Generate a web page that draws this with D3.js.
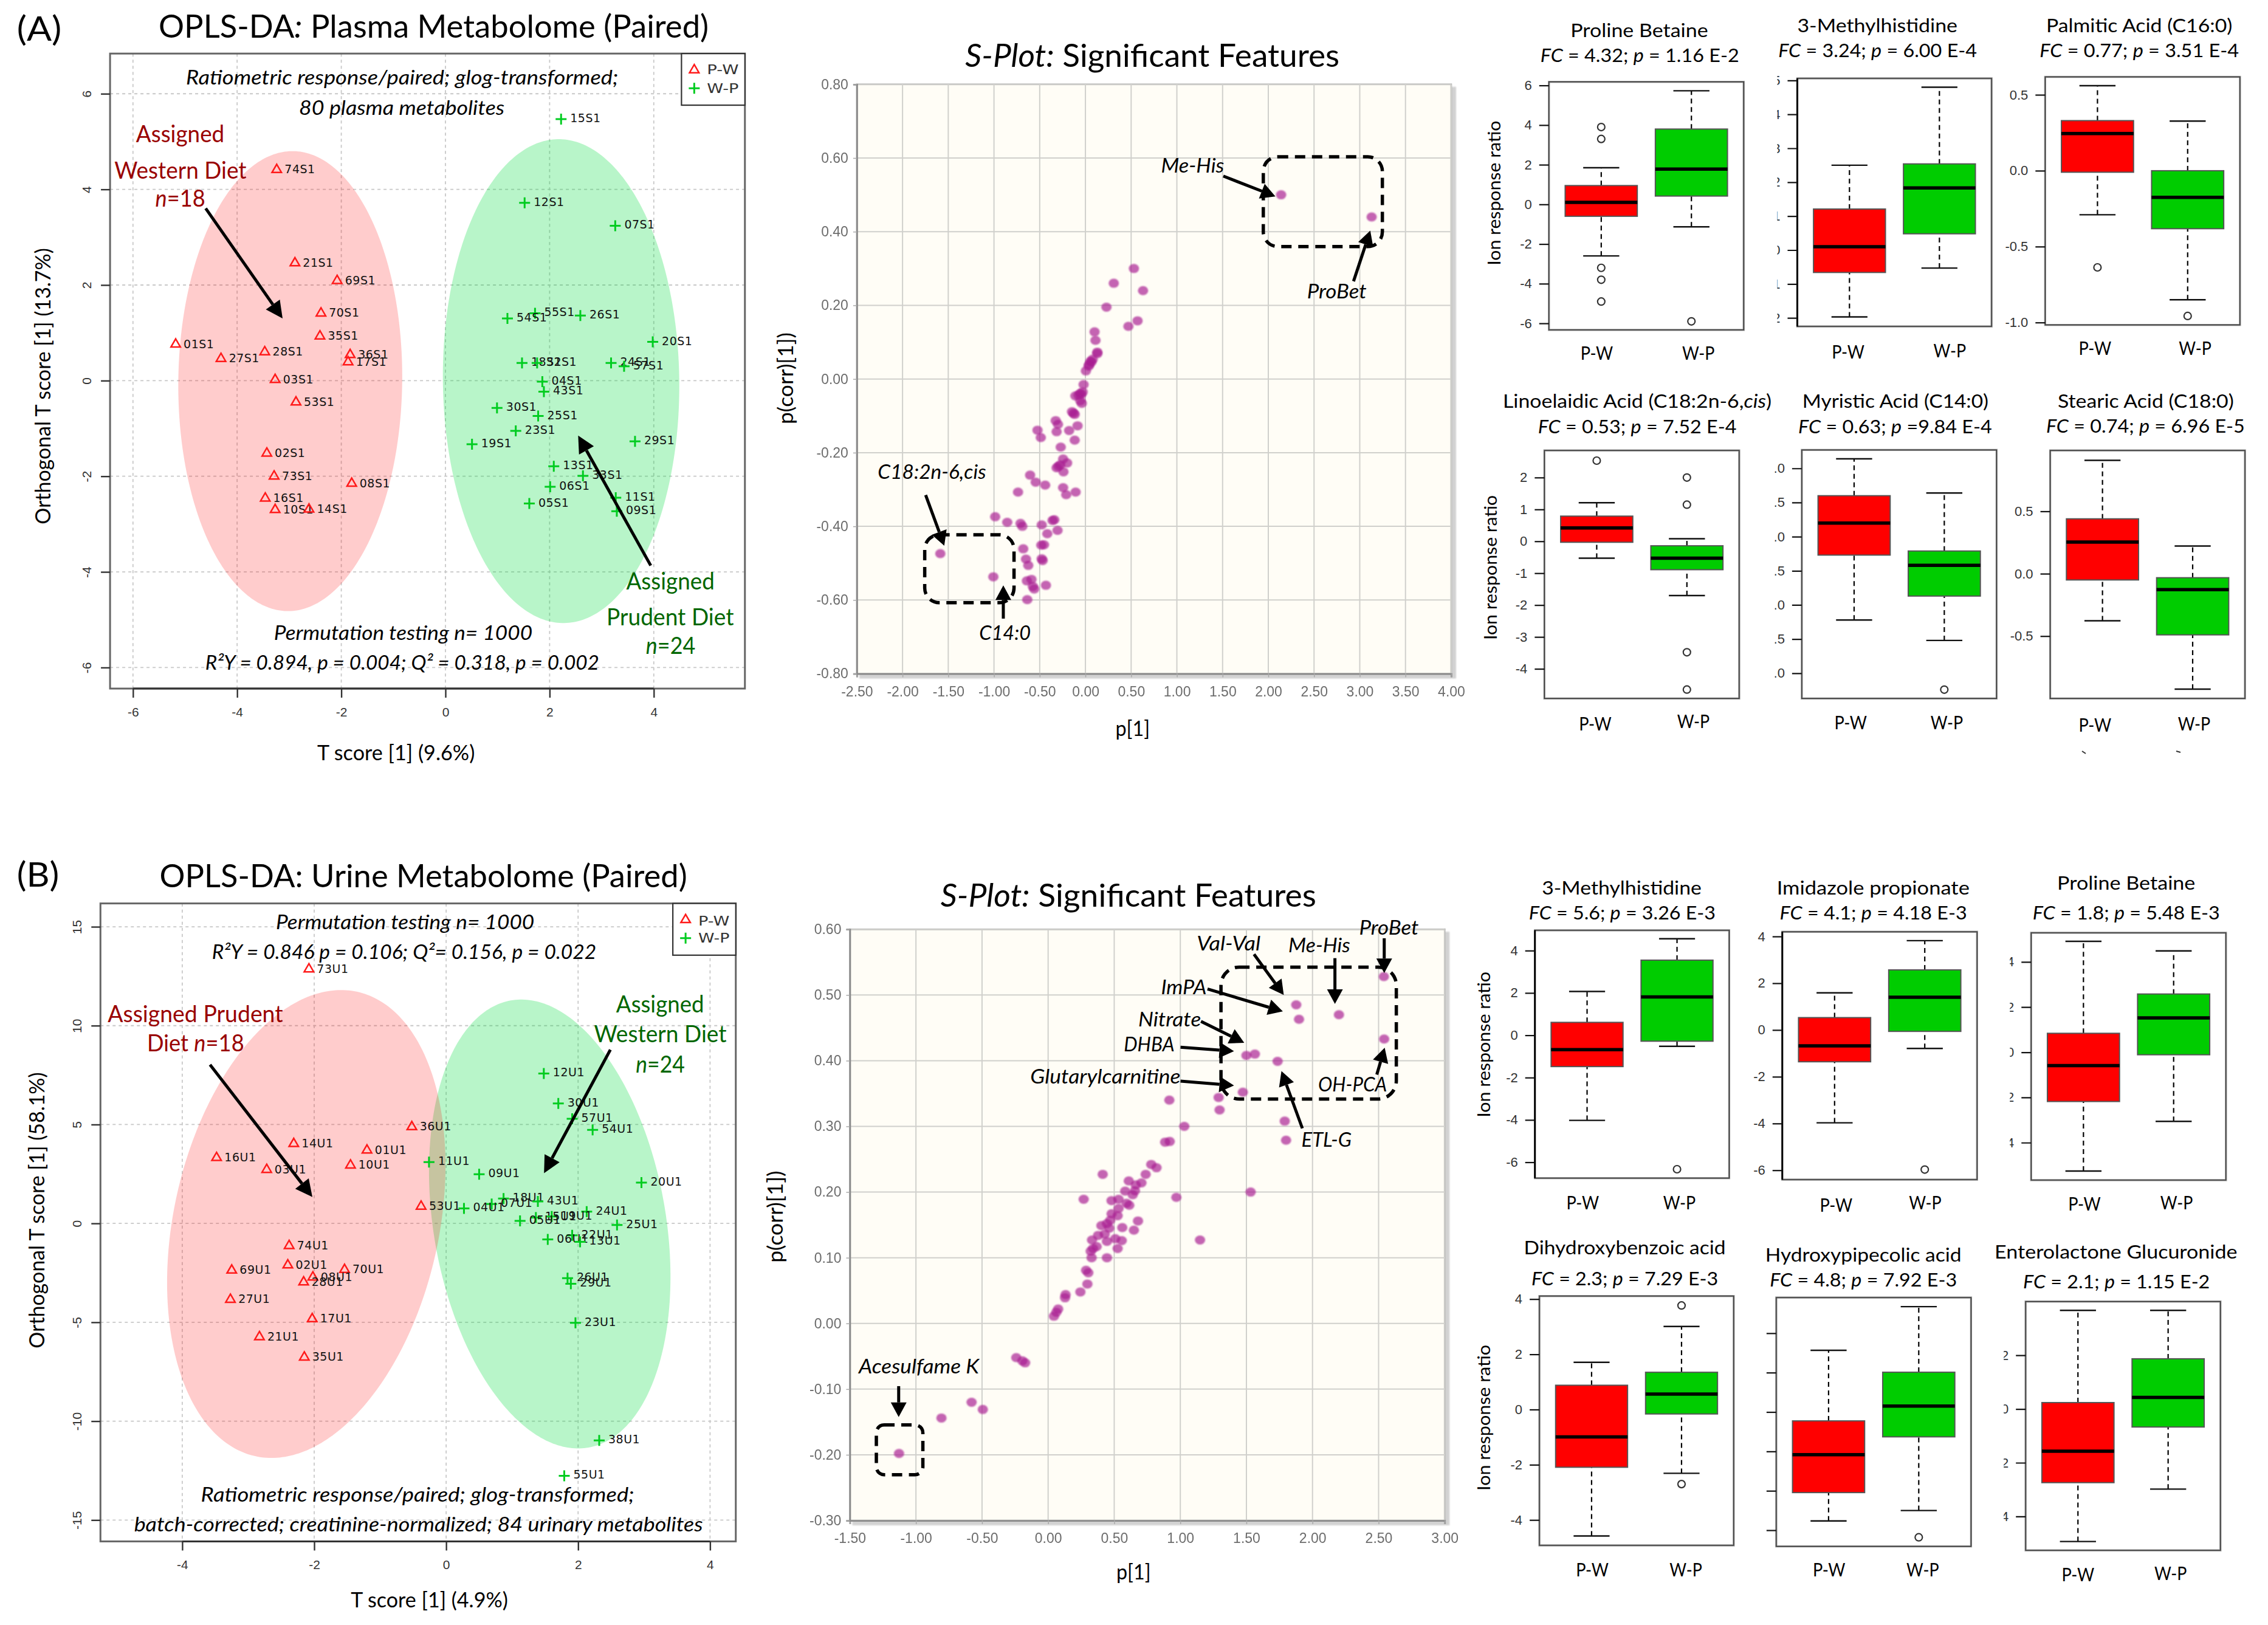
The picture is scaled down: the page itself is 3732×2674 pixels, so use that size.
<!DOCTYPE html>
<html><head><meta charset="utf-8">
<script src="https://cdn.jsdelivr.net/npm/d3@7/dist/d3.min.js"></script>
<style>html,body{margin:0;padding:0;background:#fff}svg{display:block}</style>
</head><body><svg id="chart" width="3732" height="2674" viewBox="0 0 3732 2674"></svg>
<script>
/* ---------- DATA: OPLS-DA scores ---------- */
const plasmaPwIds=["74S1","21S1","69S1","70S1","35S1","01S1","27S1","28S1","36S1","17S1","03S1","53S1","02S1","73S1","08S1","16S1","10S1","14S1"];
const plasmaPwT=[-3.24,-2.89,-2.08,-2.39,-2.41,-5.18,-4.31,-3.47,-1.83,-1.87,-3.27,-2.87,-3.43,-3.29,-1.80,-3.46,-3.27,-2.62];
const plasmaPwO=[4.41,2.46,2.09,1.41,0.93,0.76,0.46,0.60,0.54,0.39,0.02,-0.45,-1.52,-2.0,-2.15,-2.46,-2.70,-2.69];
const plasmaWpIds=["15S1","12S1","07S1","55S1","54S1","26S1","20S1","18S1","32S1","24S1","57S1","04S1","43S1","30S1","25S1","23S1","19S1","29S1","13S1","33S1","06S1","11S1","05S1","09S1"];
const plasmaWpT=[2.22,1.52,3.26,1.72,1.19,2.59,3.98,1.47,1.76,3.18,3.43,1.86,1.89,0.99,1.78,1.35,0.51,3.64,2.08,2.64,2.01,3.27,1.61,3.29];
const plasmaWpO=[5.47,3.72,3.24,1.41,1.30,1.36,0.81,0.37,0.37,0.37,0.30,-0.02,-0.23,-0.57,-0.74,-1.05,-1.33,-1.27,-1.79,-1.99,-2.22,-2.45,-2.57,-2.73];
const urinePwIds=["73U1","36U1","14U1","01U1","16U1","10U1","03U1","53U1","74U1","02U1","69U1","70U1","08U1","28U1","27U1","17U1","21U1","35U1"];
const urinePwT=[-2.08,-0.52,-2.31,-1.20,-3.48,-1.45,-2.72,-0.38,-2.38,-2.40,-3.25,-1.54,-2.02,-2.16,-3.27,-2.03,-2.83,-2.15];
const urinePwO=[12.86,4.88,4.03,3.70,3.32,2.94,2.72,0.86,-1.13,-2.11,-2.37,-2.34,-2.72,-2.97,-3.85,-4.83,-5.74,-6.77];
const urineWpIds=["12U1","30U1","57U1","54U1","11U1","09U1","20U1","18U1","43U1","07U1","04U1","24U1","15U1","19U1","05U1","25U1","22U1","06U1","13U1","26U1","29U1","23U1","38U1","55U1"];
const urineWpT=[1.48,1.70,1.91,2.22,-0.26,0.50,2.96,0.87,1.39,0.69,0.27,2.13,1.36,1.60,1.12,2.59,1.91,1.54,2.03,1.84,1.89,1.96,2.32,1.79];
const urineWpO=[7.58,6.07,5.29,4.73,3.10,2.49,2.06,1.26,1.11,0.98,0.76,0.60,0.30,0.35,0.13,-0.08,-0.60,-0.81,-0.93,-2.77,-3.05,-5.03,-10.97,-12.76];

/* ---------- DATA: S-plots ---------- */
const sPlotAp=[2.14,3.13,.53,.31,.63,.23,.57,.47,.10,.11,.13,.13,.08,.055,.04,.005,.065,.036,-.02,-.03,-.056,-.11,-.076,-.046,-.04,-.056,-.147,-.13,-.117,-.086,-.178,-.117,-.325,-.30,-.315,-.524,-.488,-.27,-.244,-.2,-.275,-.315,-.24,-.295,-.605,-.544,-.44,-.244,-.21,-.107,-.737,-.987,-.855,-.71,-.69,-.478,-.36,-.34,-.305,-.417,-1.587,-.68,-.483,-.453,-.65,-.625,-.468,-.478,-1.007,-.64,-.59,-.575,-.56,-.432,-.636];
const sPlotAcorr=[.50,.44,.30,.26,.24,.195,.158,.143,.128,.105,.073,.069,.054,.048,.039,.022,.046,.035,-.015,-.035,-.039,-.046,-.044,-.042,-.066,-.059,-.089,-.093,-.096,-.127,-.14,-.166,-.113,-.123,-.143,-.139,-.159,-.185,-.217,-.228,-.233,-.241,-.252,-.237,-.261,-.28,-.288,-.295,-.314,-.307,-.307,-.374,-.389,-.392,-.40,-.396,-.384,-.382,-.411,-.42,-.474,-.461,-.451,-.45,-.489,-.506,-.493,-.488,-.537,-.548,-.544,-.563,-.57,-.56,-.599];
const sPlotBp=[2.54,1.877,1.898,2.20,2.542,1.50,1.564,1.736,1.473,1.29,1.297,.917,1.03,1.79,1.80,.885,.92,.78,.82,.413,.738,.61,.706,.663,.657,1.532,.583,.64,.269,.97,.48,.533,.593,.614,.533,.48,.526,.47,.403,.445,.463,.68,.561,.649,.378,.428,.508,.557,.332,.445,.367,.34,.322,.526,.329,.445,.287,.304,.297,.244,.132,.128,.076,.062,.044,-.241,-.195,-.174,-.579,-.494,-.807,-1.128,1.149];
const sPlotBcorr=[.528,.485,.463,.470,.433,.408,.41,.399,.352,.344,.325,.34,.30,.308,.279,.276,.277,.242,.237,.227,.227,.217,.214,.211,.202,.20,.2015,.196,.189,.192,.187,.189,.183,.18,.175,.167,.164,.157,.149,.152,.145,.156,.146,.142,.134,.136,.129,.126,.127,.125,.117,.114,.11,.114,.10,.10,.081,.077,.06,.048,.044,.039,.022,.017,.011,-.052,-.057,-.06,-.12,-.131,-.144,-.198,.127];

/* ---------- DATA: box plots  [whisker low, Q1, median, Q3, whisker high] ---------- */
const boxGroups=["P-W","W-P"];
const proBetA_PW=[-2.6,-.6,.1,.95,1.85], proBetA_WP=[-1.13,.42,1.78,3.8,5.73], proBetA_out=[[3.9,3.3,-3.2,-3.8,-4.9],[-5.9]];
const meHisA_PW=[-1.97,-.66,.10,1.21,2.5], meHisA_WP=[-.53,.48,1.83,2.54,4.8], meHisA_out=[[],[]];
const palmA_PW=[-.29,-.01,.245,.33,.56], palmA_WP=[-.85,-.382,-.176,0,.327], palmA_out=[[-.637],[-.957]];
const linoA_PW=[-.53,-.03,.42,.79,1.21], linoA_WP=[-1.7,-.89,-.53,-.14,.08], linoA_out=[[2.53],[2.0,1.15,-3.48,-4.65]];
const myrA_PW=[-1.22,-.27,.20,.60,1.14], myrA_WP=[-1.52,-.87,-.42,-.21,.64], myrA_out=[[],[-2.24]];
const stearA_PW=[-.377,-.05,.254,.44,.909], stearA_WP=[-.925,-.49,-.127,-.032,.222], stearA_out=[[],[]];
const meHisB_PW=[-4.02,-1.48,-.68,.61,2.07], meHisB_WP=[-.52,-.28,1.81,3.55,4.56], meHisB_out=[[],[-6.33]];
const imidB_PW=[-3.97,-1.36,-.68,.53,1.59], imidB_WP=[-.79,-.06,1.4,2.57,3.82], imidB_out=[[],[-5.97]];
const proBetB_PW=[-5.26,-2.18,-.59,.84,4.91], proBetB_WP=[-3.06,-.11,1.52,2.58,4.49], proBetB_out=[[],[]];
const dhbaB_PW=[-4.58,-2.09,-.99,.88,1.71], dhbaB_WP=[-2.31,-.16,.56,1.35,3.01], dhbaB_out=[[],[3.77,-2.7]];
const hpipB_PW=[-5.53,-4.09,-2.17,-.45,3.13], hpipB_WP=[-5.0,-1.26,.30,2.02,5.35], hpipB_out=[[],[-6.36]];
const entB_PW=[-4.93,-2.74,-1.57,.24,3.67], entB_WP=[-2.98,-.67,.43,1.87,3.67], entB_out=[[],[]];

/* ---------- layout helpers ---------- */
const svg=d3.select("#chart");
svg.append("rect").attr("width",3732).attr("height",2674).attr("fill","#fff");
const defs=svg.append("defs");
defs.append("filter").attr("id","soft").attr("x","-30%").attr("y","-30%").attr("width","160%").attr("height","160%")
  .append("feGaussianBlur").attr("stdDeviation",1.3);
defs.append("filter").attr("id","tiny").attr("x","-5%").attr("y","-30%").attr("width","110%").attr("height","160%")
  .append("feGaussianBlur").attr("stdDeviation",0.45);
const crops={pA:[0,0,1240/1568,1280/1568],sA:[1240,0,1200/1568,1280/1568],bA:[2440,0,1292/1568,1280/1568],
             pB:[0,1390,1240/1568,1284/1568],sB:[1240,1390,1200/1568,1284/1568],bB:[2440,1390,1292/1568,1284/1568]};
const PX=(c,v)=>crops[c][0]+v*crops[c][2], PY=(c,v)=>crops[c][1]+v*crops[c][3];
const CAL="Lato", it=t=>({t,i:1}), RED="#990000", GRN="#006600";

function fitText(g,segs,size,fill,family){
  const el=g.append("text").attr("font-family",family||CAL).attr("font-size",size).attr("fill",fill||"#000").attr("xml:space","preserve");
  (typeof segs==="string"?[{t:segs}]:segs).forEach(s=>{
    const ts=el.append("tspan").text(s.t).style("white-space","pre");
    if(s.i) ts.attr("font-style","italic");
  });
  return el;
}
function put(c,x0,x1,base,segs,size,fill,family){
  const el=fitText(svg,segs,size,fill,family), w=el.node().getComputedTextLength(), target=(x1-x0)*crops[c][2];
  el.attr("transform",`translate(${PX(c,x0)},${PY(c,base)}) scale(${target/w},1)`);
  return el;
}
function rot(c,baseX,y0,y1,segs,size,fill){
  const el=fitText(svg,segs,size,fill), w=el.node().getComputedTextLength(), target=(y1-y0)*crops[c][3];
  el.attr("transform",`translate(${PX(c,baseX)},${PY(c,y1)}) rotate(-90) scale(${target/w},1)`);
  return el;
}
function arrow(c,x1,y1,x2,y2,lw=5,hl=28,hw=14){
  const ax=PX(c,x1),ay=PY(c,y1),bx=PX(c,x2),by=PY(c,y2),a=Math.atan2(by-ay,bx-ax);
  const mx=bx-hl*Math.cos(a),my=by-hl*Math.sin(a);
  svg.append("line").attr("x1",ax).attr("y1",ay).attr("x2",mx).attr("y2",my).attr("stroke","#000").attr("stroke-width",lw);
  svg.append("polygon").attr("fill","#000").attr("points",
    [[bx,by],[mx-hw*Math.sin(a),my+hw*Math.cos(a)],[mx+hw*Math.sin(a),my-hw*Math.cos(a)]].map(p=>p.join(",")).join(" "));
}
function dashedBox(c,x0,y0,x1,y1,r){
  svg.append("rect").attr("x",PX(c,x0)).attr("y",PY(c,y0)).attr("width",PX(c,x1)-PX(c,x0)).attr("height",PY(c,y1)-PY(c,y0))
    .attr("rx",r).attr("ry",r).attr("fill","none").attr("stroke","#000").attr("stroke-width",5.5).attr("stroke-dasharray","17,11");
}

/* ---------- OPLS-DA score panel ---------- */
function scorePanel(o){
  const c=o.crop,[x0,y0,x1,y1]=[PX(c,o.rect[0]),PY(c,o.rect[1]),PX(c,o.rect[2]),PY(c,o.rect[3])];
  const x=d3.scaleLinear().domain(o.xDom).range([x0,x1]), y=d3.scaleLinear().domain(o.yDom).range([y1,y0]);
  const g=svg.append("g");
  g.selectAll(".gx").data(o.xTicks).join("line").attr("x1",d=>x(d)).attr("x2",d=>x(d)).attr("y1",y0).attr("y2",y1)
    .attr("stroke","#c8c8c8").attr("stroke-width",1.8).attr("stroke-dasharray","5,5");
  g.selectAll(".gy").data(o.yTicks).join("line").attr("y1",d=>y(d)).attr("y2",d=>y(d)).attr("x1",x0).attr("x2",x1)
    .attr("stroke","#c8c8c8").attr("stroke-width",1.8).attr("stroke-dasharray","5,5");
  const ell=(e,col)=>{
    const line=d3.line().x(t=>x(e.cx+e.a*Math.cos(t))).y(t=>y(e.cy+e.b*Math.cos(t-Math.acos(e.r))));
    g.append("path").attr("d",line(d3.range(0,6.3,0.02))+"Z").attr("fill",col);
  };
  ell(o.grnEll,"rgba(0,220,60,0.28)"); ell(o.redEll,"rgba(255,0,0,0.2)");
  g.append("rect").attr("x",x0).attr("y",y0).attr("width",x1-x0).attr("height",y1-y0).attr("fill","none").attr("stroke","#666").attr("stroke-width",3);
  const ax=g.append("g").attr("transform",`translate(0,${y1})`).call(d3.axisBottom(x).tickValues(o.xTicks).tickFormat(String).tickSize(15));
  ax.select(".domain").remove();
  ax.selectAll("text").attr("y",o.xLabY).attr("dy",0);
  const ay=g.append("g").attr("transform",`translate(${x0},0)`).call(d3.axisLeft(y).tickValues(o.yTicks).tickFormat(String).tickSize(15));
  ay.select(".domain").remove();
  ay.selectAll("text").attr("x",0).attr("dy",0).attr("text-anchor","middle").attr("transform",`translate(-31,0) rotate(-90)`);
  [ax,ay].forEach(a=>{a.selectAll("line").attr("stroke","#333").attr("stroke-width",2.4);
    a.selectAll("text").attr("font-family","Liberation Sans").attr("font-size",21).attr("fill","#333");});
  g.append("line").attr("x1",x(o.xTicks[0])).attr("x2",x(o.xTicks[o.xTicks.length-1])).attr("y1",y1).attr("y2",y1).attr("stroke","#333").attr("stroke-width",3);
  const tri=d3.symbol().type(d3.symbolTriangle).size(105)();
  const plus="M-9,0H9M0,-9V9";
  o.pwIds.forEach((id,i)=>{
    g.append("path").attr("d",tri).attr("transform",`translate(${x(o.pwT[i])},${y(o.pwO[i])})`).attr("fill","none").attr("stroke","#ff1a1a").attr("stroke-width",2.5);
    g.append("text").attr("x",x(o.pwT[i])+13).attr("y",y(o.pwO[i])+6).text(id).attr("font-family","DejaVu Sans").attr("font-size",19).attr("letter-spacing",0.5).attr("fill","#111");
  });
  o.wpIds.forEach((id,i)=>{
    g.append("path").attr("d",plus).attr("transform",`translate(${x(o.wpT[i])},${y(o.wpO[i])})`).attr("fill","none").attr("stroke","#00cc20").attr("stroke-width",3);
    g.append("text").attr("x",x(o.wpT[i])+15).attr("y",y(o.wpO[i])+5).text(id).attr("font-family","DejaVu Sans").attr("font-size",19).attr("letter-spacing",0.5).attr("fill","#111");
  });
  const lx0=PX(c,o.legend[0]),ly0=PY(c,o.legend[1]),lx1=x1,ly1=PY(c,o.legend[2]);
  g.append("rect").attr("x",lx0).attr("y",ly0).attr("width",lx1-lx0).attr("height",ly1-ly0).attr("fill","#fff").attr("stroke","#333").attr("stroke-width",2.2);
  const sx=lx0+21;
  g.append("path").attr("d",tri).attr("transform",`translate(${sx},${ly0+27})`).attr("fill","none").attr("stroke","#ff1a1a").attr("stroke-width",2.5);
  g.append("path").attr("d",plus).attr("transform",`translate(${sx},${ly0+57})`).attr("fill","none").attr("stroke","#00cc20").attr("stroke-width",3);
  put(c,o.legTxt[0],o.legTxt[1],o.legTxt[2],"P-W",22,"#333","DejaVu Sans");
  put(c,o.legTxt[0],o.legTxt[1],o.legTxt[3],"W-P",22,"#333","DejaVu Sans");
}

scorePanel({crop:"pA",rect:[229,108,1550,1388],xDom:[-6.44,5.75],yDom:[-6.44,6.84],xTicks:[-6,-4,-2,0,2,4],yTicks:[-6,-4,-2,0,2,4,6],xLabY:46,
  pwIds:plasmaPwIds,pwT:plasmaPwT,pwO:plasmaPwO,wpIds:plasmaWpIds,wpT:plasmaWpT,wpO:plasmaWpO,
  redEll:{cx:-2.98,cy:-0.01,a:2.15,b:4.81,r:0.02},grnEll:{cx:2.22,cy:-0.01,a:2.27,b:5.06,r:-0.02},legend:[1418,108,212],legTxt:[1471,1537,150,187]});
scorePanel({crop:"pB",rect:[209,118,1531,1400],xDom:[-5.24,4.39],yDom:[-16.08,16.18],xTicks:[-4,-2,0,2,4],yTicks:[-15,-10,-5,0,5,10,15],xLabY:46,
  pwIds:urinePwIds,pwT:urinePwT,pwO:urinePwO,wpIds:urineWpIds,wpT:urineWpT,wpO:urineWpO,
  redEll:{cx:-2.12,cy:-0.03,a:2.11,b:11.83,r:0.25},grnEll:{cx:1.57,cy:-0.03,a:1.83,b:11.35,r:-0.235},legend:[1400,118,222],legTxt:[1453,1518,162,197]});

/* Panel A score annotations */
put("pA",35,128,82,"(A)",56);
put("pA",330,1475,76,[{t:"OPLS-DA"},it(":"),{t:" Plasma Metabolome (Paired)"}],52);
put("pA",660,988,1533,"T score [1] (9.6%)",34);
rot("pA",105,500,1057,"Orthogonal T score [1] (13.7%)",34);
put("pA",387,1287,170,[it("Ratiometric response/paired; glog-transformed;")],33);
put("pA",622,1050,232,[it("80 plasma metabolites")],33);
put("pA",283,467,287,"Assigned",38,RED);
put("pA",238,513,360,"Western Diet",38,RED);
put("pA",323,427,417,[it("n"),{t:"=18"}],38,RED);
put("pA",570,1108,1290,[it("Permutation testing n= 1000")],33);
put("pA",427,1247,1350,[it("R²Y = 0.894, p = 0.004; Q² = 0.318, p = 0.002")],33);
put("pA",1303,1487,1188,"Assigned",38,GRN);
put("pA",1262,1527,1260,"Prudent Diet",38,GRN);
put("pA",1344,1447,1318,[it("n"),{t:"=24"}],38,GRN);
arrow("pA",428,420,588,642);
arrow("pA",1354,1140,1203,878);

/* Panel B score annotations */
put("pB",35,123,84,"(B)",56);
put("pB",332,1430,85,"OPLS-DA: Urine Metabolome (Paired)",52);
put("pB",730,1057,1532,"T score [1] (4.9%)",34);
rot("pB",92,457,1012,"Orthogonal T score [1] (58.1%)",34);
put("pB",574,1112,170,[it("Permutation testing n= 1000")],33);
put("pB",441,1241,230,[it("R²Y = 0.846 p = 0.106; Q²= 0.156, p = 0.022")],33);
put("pB",224,589,356,"Assigned Prudent",38,RED);
put("pB",306,508,415,[{t:"Diet "},it("n"),{t:"=18"}],38,RED);
put("pB",1282,1465,337,"Assigned",38,GRN);
put("pB",1236,1512,397,"Western Diet",38,GRN);
put("pB",1323,1425,458,[it("n"),{t:"=24"}],38,GRN);
put("pB",418,1320,1320,[it("Ratiometric response/paired; glog-transformed;")],33);
put("pB",279,1463,1380,[it("batch-corrected; creatinine-normalized; 84 urinary metabolites")],33);
arrow("pB",437,442,650,708);
arrow("pB",1270,412,1132,660);

/* ---------- S-plot panel ---------- */
function sPlot(o){
  const c=o.crop,[x0,y0,x1,y1]=[PX(c,o.rect[0]),PY(c,o.rect[1]),PX(c,o.rect[2]),PY(c,o.rect[3])];
  const x=d3.scaleLinear().domain(o.xDom).range([x0,x1]), y=d3.scaleLinear().domain(o.yDom).range([y1,y0]);
  const g=svg.append("g");
  g.append("rect").attr("x",x0+4).attr("y",y0+4).attr("width",x1-x0+4).attr("height",y1-y0+4).attr("fill","#d2d2d2").attr("filter","url(#soft)");
  g.append("rect").attr("x",x0).attr("y",y0).attr("width",x1-x0).attr("height",y1-y0).attr("fill","#fffdf6").attr("stroke","#a6a6a6").attr("stroke-width",2.6);
  g.selectAll(".gx").data(o.xTicks).join("line").attr("x1",d=>x(d)).attr("x2",d=>x(d)).attr("y1",y0).attr("y2",y1).attr("stroke","#d0d0cc").attr("stroke-width",2);
  g.selectAll(".gy").data(o.yTicks).join("line").attr("y1",d=>y(d)).attr("y2",d=>y(d)).attr("x1",x0).attr("x2",x1).attr("stroke","#d0d0cc").attr("stroke-width",2);
  const fmt=d=>d.toFixed(2);
  const ax=g.append("g").attr("transform",`translate(0,${y1})`).call(d3.axisBottom(x).tickValues(o.xTicks).tickFormat(fmt).tickSize(6).tickPadding(15));
  const ay=g.append("g").attr("transform",`translate(${x0},0)`).call(d3.axisLeft(y).tickValues(o.yTicks).tickFormat(fmt).tickSize(6).tickPadding(8));
  [ax,ay].forEach(a=>{a.select(".domain").attr("stroke","#8a8a8a").attr("stroke-width",2.8);
    a.selectAll("line").attr("stroke","#aaa").attr("stroke-width",1.5);
    a.selectAll("text").attr("font-family","Liberation Sans").attr("font-size",23).attr("fill","#6c6c6c").attr("filter","url(#tiny)");});
  g.selectAll(".pt").data(o.p).join("ellipse").attr("cx",d=>x(d)).attr("cy",(d,i)=>y(o.corr[i])).attr("rx",8.5).attr("ry",7.5)
    .attr("fill","#a81c90").attr("fill-opacity",0.68).attr("filter","url(#soft)");
}
sPlot({crop:"sA",rect:[222,170,1500,1358],xDom:[-2.5,4],yDom:[-.8,.8],xTicks:d3.range(-2.5,4.01,.5),yTicks:d3.range(-.8,.81,.2).map(v=>+v.toFixed(1)),p:sPlotAp,corr:sPlotAcorr});
sPlot({crop:"sB",rect:[207,170,1486,1358],xDom:[-1.5,3],yDom:[-.3,.6],xTicks:d3.range(-1.5,3.01,.5),yTicks:d3.range(-.3,.61,.1).map(v=>+v.toFixed(1)),p:sPlotBp,corr:sPlotBcorr});

put("sA",455,1260,135,[it("S-Plot:"),{t:" Significant Features"}],52);
put("sA",778,852,1484,"p[1]",34);
rot("sA",85,670,855,"p(corr)[1])",34);
dashedBox("sA",1096,316,1352,497,24); dashedBox("sA",368,1078,560,1215,24);
put("sA",876,1012,348,[it("Me-His")],33);
put("sA",1190,1318,602,[it("ProBet")],33);
put("sA",267,500,965,[it("C18:2n-6,cis")],33);
put("sA",485,596,1290,[it("C14:0")],33);
arrow("sA",1010,355,1122,396,5,24,13);
arrow("sA",1290,567,1326,465,5,24,13);
arrow("sA",370,998,410,1100,5,24,13);
arrow("sA",537,1247,537,1180,5,24,13);

put("sB",402,1210,125,[it("S-Plot:"),{t:" Significant Features"}],52);
put("sB",780,854,1477,"p[1]",34);
rot("sB",63,655,840,"p(corr)[1])",34);
dashedBox("sB",1005,246,1382,511,30); dashedBox("sB",264,1166,364,1266,13);
[["ProBet",1302,1430,181],["Val-Val",953,1090,212],["Me-His",1150,1283,216],["ImPA",876,974,300],["Nitrate",827,962,365],["DHBA",796,905,415],
 ["Glutarylcarnitine",595,918,480],["OH-PCA",1214,1362,496],["ETL-G",1178,1286,607],["Acesulfame K",226,485,1063]]
 .forEach(a=>put("sB",a[1],a[2],a[3],[it(a[0])],33));
[[1356,188,1356,258],[1076,220,1140,302],[1250,228,1250,320],[976,290,1138,335],[962,355,1055,398],[918,407,1033,415],[918,475,1033,484],[1340,462,1357,408],[1180,570,1135,455],[312,1088,312,1150]]
 .forEach(a=>arrow("sB",a[0],a[1],a[2],a[3],5,24,13));

/* ---------- box plots ---------- */
let clipN=0;
const oneDec=d=>d.toFixed(1);
function boxPanel(o){
  const c=o.crop,[x0,y0,x1,y1]=[PX(c,o.rect[0]),PY(c,o.rect[1]),PX(c,o.rect[2]),PY(c,o.rect[3])];
  const x=d3.scaleLinear().domain([.42,2.58]).range([x0,x1]), y=d3.scaleLinear().domain(o.dom).range([y1,y0]);
  const g=svg.append("g");
  const capW=(x(1.2)-x(1)), boxW=(x(1.4)-x(1));
  [o.pw,o.wp].forEach((s,i)=>{
    const cx=x(i+1),[lo,q1,med,q3,hi]=s;
    [[lo,q1],[q3,hi]].forEach(w=>g.append("line").attr("x1",cx).attr("x2",cx).attr("y1",y(w[0])).attr("y2",y(w[1])).attr("stroke","#000").attr("stroke-width",2.2).attr("stroke-dasharray","8,6"));
    [lo,hi].forEach(v=>g.append("line").attr("x1",cx-capW).attr("x2",cx+capW).attr("y1",y(v)).attr("y2",y(v)).attr("stroke","#111").attr("stroke-width",2.4));
    g.append("rect").attr("x",cx-boxW).attr("width",2*boxW).attr("y",y(q3)).attr("height",y(q1)-y(q3)).attr("fill",i?"#00cc00":"#ff0000").attr("stroke","#555").attr("stroke-width",2);
    g.append("line").attr("x1",cx-boxW).attr("x2",cx+boxW).attr("y1",y(med)).attr("y2",y(med)).attr("stroke","#000").attr("stroke-width",5.5);
    o.out[i].forEach(v=>g.append("circle").attr("cx",cx).attr("cy",y(v)).attr("r",6).attr("fill","#fff").attr("stroke","#333").attr("stroke-width",2.2));
  });
  g.append("rect").attr("x",x0).attr("y",y0).attr("width",x1-x0).attr("height",y1-y0).attr("fill","none").attr("stroke","#999").attr("stroke-width",3.4);
  g.append("rect").attr("x",x0).attr("y",y0).attr("width",x1-x0).attr("height",y1-y0).attr("fill","none").attr("stroke","#333").attr("stroke-width",1.3);
  if(o.darkLeft) g.append("line").attr("x1",x0).attr("x2",x0).attr("y1",y0).attr("y2",y1).attr("stroke","#000").attr("stroke-width",2.8);
  const ay=g.append("g").attr("transform",`translate(${x0},0)`).call(d3.axisLeft(y).tickValues(o.ticks).tickFormat(o.hideLabels?"":(o.dec?oneDec:String)).tickSize(16).tickPadding(12));
  ay.select(".domain").remove();
  ay.selectAll("line").attr("stroke","#111").attr("stroke-width",2.2);
  ay.selectAll("text").attr("font-family","Liberation Sans").attr("font-size",22).attr("fill","#333");
  if(o.clip){
    const id="lblclip"+(++clipN);
    defs.append("clipPath").attr("id",id).append("rect").attr("x",-o.clip).attr("y",0).attr("width",o.clip).attr("height",2674);
    ay.attr("clip-path",`url(#${id})`);
  }
  put(c,o.name[0],o.name[1],o.name[2],o.title,31);
  put(c,o.fcPos[0],o.fcPos[1],o.fcPos[2],o.fc,31);
  boxGroups.forEach((t,i)=>put(c,o.grp[i][0],o.grp[i][0]+65,o.grp[i][1],t,31));
  if(o.ylab) rot(c,o.ylab[0],o.ylab[1],o.ylab[2],"Ion response ratio",29);
}
const fc=(a,b)=>[it("FC"),{t:a},it("p"),{t:b}];
boxPanel({crop:"bA",rect:[132,165,521,665],dom:[-6.33,6.18],ticks:[-6,-4,-2,0,2,4,6],pw:proBetA_PW,wp:proBetA_WP,out:proBetA_out,
  title:"Proline Betaine",name:[175,450,75],fc:fc(" = 4.32; "," = 1.16 E-2"),fcPos:[115,512,125],grp:[[195,725],[398,725]],ylab:[35,243,535]});
boxPanel({crop:"bA",rect:[628,158,1016,658],dom:[-2.25,5.06],ticks:[-2,-1,0,1,2,3,4,5],clip:33,darkLeft:1,pw:meHisA_PW,wp:meHisA_WP,out:meHisA_out,
  title:"3-Methylhistidine",name:[628,948,65],fc:fc(" = 3.24; "," = 6.00 E-4"),fcPos:[590,987,115],grp:[[697,723],[900,720]]});
boxPanel({crop:"bA",rect:[1123,155,1512,655],dom:[-1.016,.618],ticks:[-1,-.5,0,.5],dec:1,pw:palmA_PW,wp:palmA_WP,out:palmA_out,
  title:"Palmitic Acid (C16:0)",name:[1125,1497,65],fc:fc(" = 0.77; "," = 3.51 E-4"),fcPos:[1112,1510,115],grp:[[1190,715],[1390,715]]});
boxPanel({crop:"bA",rect:[123,908,512,1408],dom:[-4.93,2.85],ticks:[-4,-3,-2,-1,0,1,2],pw:linoA_PW,wp:linoA_WP,out:linoA_out,
  title:[{t:"Linoelaidic Acid (C18:2n-6,"},it("cis"),{t:")"}],name:[40,577,822],fc:fc(" = 0.53; "," = 7.52 E-4"),fcPos:[110,507,873],grp:[[192,1472],[388,1468]],ylab:[28,998,1290]});
boxPanel({crop:"bA",rect:[637,907,1026,1408],dom:[-2.37,1.27],ticks:[-2,-1.5,-1,-.5,0,.5,1],dec:1,clip:44.5,pw:myrA_PW,wp:myrA_WP,out:myrA_out,
  title:"Myristic Acid (C14:0)",name:[638,1010,822],fc:fc(" = 0.63; "," =9.84 E-4"),fcPos:[630,1017,873],grp:[[702,1470],[894,1470]]});
boxPanel({crop:"bA",rect:[1133,908,1522,1408],dom:[-1,.988],ticks:[-.5,0,.5],dec:1,pw:stearA_PW,wp:stearA_WP,out:stearA_out,
  title:"Stearic Acid (C18:0)",name:[1148,1500,822],fc:fc(" = 0.74; "," = 6.96 E-5"),fcPos:[1125,1522,872],grp:[[1190,1475],[1388,1472]]});
boxPanel({crop:"bB",rect:[104,172,492,670],dom:[-6.75,4.96],ticks:[-6,-4,-2,0,2,4],darkLeft:1,pw:meHisB_PW,wp:meHisB_WP,out:meHisB_out,
  title:"3-Methylhistidine",name:[118,437,100],fc:fc(" = 5.6; "," = 3.26 E-3"),fcPos:[92,465,150],grp:[[167,733],[360,733]],ylab:[15,255,548]});
boxPanel({crop:"bB",rect:[598,175,987,673],dom:[-6.4,4.2],ticks:[-6,-4,-2,0,2,4],darkLeft:1,pw:imidB_PW,wp:imidB_WP,out:imidB_out,
  title:"Imidazole propionate",name:[587,972,100],fc:fc(" = 4.1; "," = 4.18 E-3"),fcPos:[593,967,150],grp:[[673,737],[851,733]]});
boxPanel({crop:"bB",rect:[1095,177,1484,674],dom:[-5.66,5.29],ticks:[-4,-2,0,2,4],clip:35,pw:proBetB_PW,wp:proBetB_WP,out:proBetB_out,
  title:"Proline Betaine",name:[1147,1423,90],fc:fc(" = 1.8; "," = 5.48 E-3"),fcPos:[1098,1472,150],grp:[[1169,735],[1353,733]]});
boxPanel({crop:"bB",rect:[113,907,501,1408],dom:[-4.92,4.11],ticks:[-4,-2,0,2,4],pw:dhbaB_PW,wp:dhbaB_WP,out:dhbaB_out,
  title:"Dihydroxybenzoic acid",name:[82,485,823],fc:fc(" = 2.3; "," = 7.29 E-3"),fcPos:[97,470,885],grp:[[186,1470],[373,1470]],ylab:[15,1005,1298]});
boxPanel({crop:"bB",rect:[586,910,975,1410],dom:[-6.82,5.81],ticks:[-6,-4,-2,0,2,4],hideLabels:1,pw:hpipB_PW,wp:hpipB_WP,out:hpipB_out,
  title:"Hydroxypipecolic acid",name:[564,956,838],fc:fc(" = 4.8; "," = 7.92 E-3"),fcPos:[573,947,888],grp:[[659,1470],[846,1470]]});
boxPanel({crop:"bB",rect:[1084,918,1473,1418],dom:[-5.26,4],ticks:[-4,-2,0,2],clip:36,pw:entB_PW,wp:entB_WP,out:entB_out,
  title:"Enterolactone Glucuronide",name:[1022,1507,832],fc:fc(" = 2.1; "," = 1.15 E-2"),fcPos:[1079,1452,892],grp:[[1156,1480],[1341,1478]]});

/* stray crop residue under the Stearic Acid panel */
[[3426,1236,3432,1240],[3581,1236,3588,1238]].forEach(m=>svg.append("line").attr("x1",m[0]).attr("y1",m[1]).attr("x2",m[2]).attr("y2",m[3]).attr("stroke","#333").attr("stroke-width",2));
</script></body></html>
